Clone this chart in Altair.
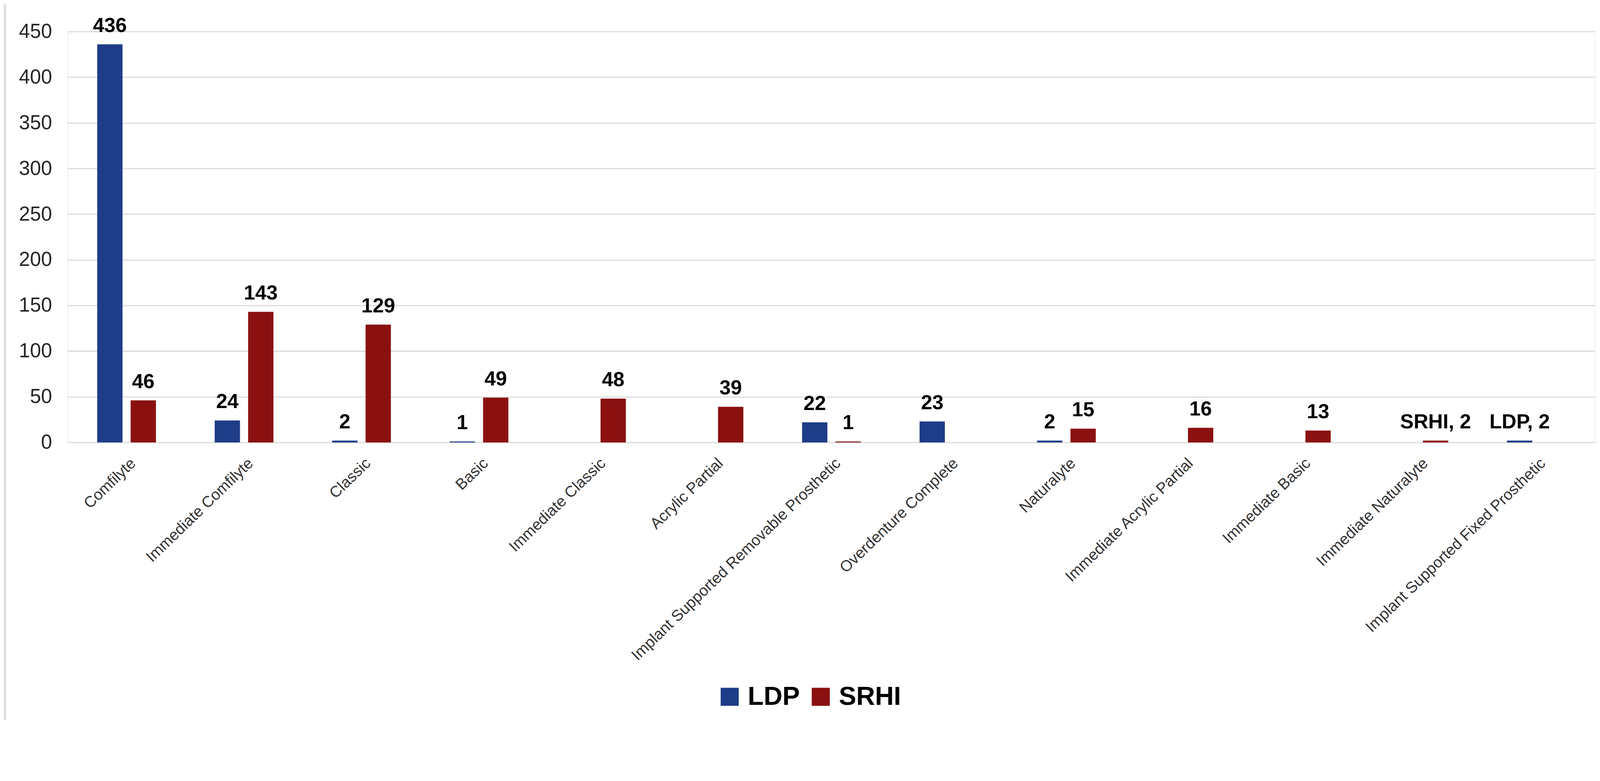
import altair as alt
import pandas as pd

categories = [
    "Comfilyte",
    "Immediate Comfilyte",
    "Classic",
    "Basic",
    "Immediate Classic",
    "Acrylic Partial",
    "Implant Supported Removable Prosthetic",
    "Overdenture Complete",
    "Naturalyte",
    "Immediate Acrylic Partial",
    "Immediate Basic",
    "Immediate Naturalyte",
    "Implant Supported Fixed Prosthetic",
]
ldp_values = [436, 24, 2, 1, None, None, 22, 23, 2, None, None, None, 2]
srhi_values = [46, 143, 129, 49, 48, 39, 1, None, 15, 16, 13, 2, None]
series_names = ["LDP", "SRHI"]
series_colors = ["#1F3C88", "#8B1111"]
# categories whose data label shows "Series, value"
named_label_categories = ["Immediate Naturalyte", "Implant Supported Fixed Prosthetic"]
y_ticks = [0, 50, 100, 150, 200, 250, 300, 350, 400, 450]

rows = []
for s_name, vals in zip(series_names, [ldp_values, srhi_values]):
    for c, v in zip(categories, vals):
        if v is None:
            continue
        lab = f"{s_name}, {v}" if c in named_label_categories else str(v)
        rows.append({"category": c, "series": s_name, "value": v, "label": lab})
df = pd.DataFrame(rows)

FONT = "Liberation Sans"

base = alt.Chart(df).encode(
    x=alt.X(
        "category:N",
        sort=categories,
        scale=alt.Scale(paddingInner=0.5, paddingOuter=0.25),
        axis=alt.Axis(
            title=None,
            labelAngle=-44,
            labelFontSize=43,
            labelFont=FONT,
            labelColor="#333333",
            ticks=False,
            tickSize=0,
            domain=False,
            grid=False,
            labelPadding=36,
            labelOffset=4,
            labelLimit=0,
        ),
    ),
    xOffset=alt.XOffset(
        "series:N",
        sort=series_names,
        scale=alt.Scale(domain=series_names, paddingInner=0.243, paddingOuter=0),
    ),
    y=alt.Y(
        "value:Q",
        scale=alt.Scale(domain=[0, 450], nice=False),
        axis=alt.Axis(
            title=None,
            values=y_ticks,
            labelFontSize=55,
            labelFont=FONT,
            labelColor="#262626",
            ticks=False,
            tickSize=0,
            domain=False,
            grid=True,
            gridColor="#d9d9d9",
            gridWidth=3,
            labelPadding=44,
        ),
    ),
)

bars = base.mark_bar().encode(
    color=alt.Color(
        "series:N",
        scale=alt.Scale(domain=series_names, range=series_colors),
        legend=alt.Legend(
            title=None,
            orient="none",
            legendX=1795,
            legendY=1805,
            direction="horizontal",
            symbolType="square",
            symbolSize=2500,
            symbolStrokeWidth=0,
            labelFontSize=72,
            labelFontWeight="bold",
            labelFont=FONT,
            labelColor="#000000",
            labelOffset=14,
            labelLimit=0,
            columnPadding=22,
            padding=0,
        ),
    )
)

labels = base.mark_text(
    baseline="bottom",
    dy=-22,
    fontSize=56,
    fontWeight="bold",
    font=FONT,
    color="#000000",
).encode(text="label:N")

border = alt.Chart(pd.DataFrame({"a": [0]})).mark_rule(
    color="#dcdcdc", strokeWidth=6
).encode(x=alt.value(-174), y=alt.value(-75), y2=alt.value(1905))

chart = (
    alt.layer(border, bars, labels)
    .properties(
        width=4225,
        height=1137,
        autosize=alt.AutoSizeParams(type="none"),
        padding={"left": 179, "top": 0, "right": 5, "bottom": 813},
    )
    .configure_view(stroke=None)
    .configure(background="#ffffff")
)

chart.save("out.html", embed_options={"renderer": "svg", "actions": False})
